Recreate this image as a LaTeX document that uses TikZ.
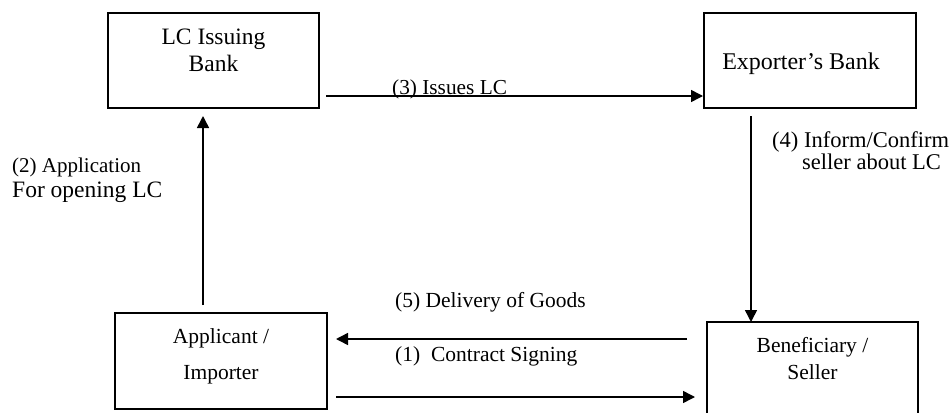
\documentclass[tikz,border=0pt]{standalone}
\usepackage{fontspec}
\setmainfont{Liberation Serif}
\usetikzlibrary{arrows.meta,calc}
\begin{document}
\begin{tikzpicture}[x=1pt,y=-1pt,
  box/.style={draw,line width=1.6pt,outer sep=0pt,inner sep=0pt},
  arr/.style={line width=1.5pt,-{Triangle[length=12pt,width=12pt]}},
  lbl/.style={inner sep=0pt,font=\fontsize{#1}{#1}\selectfont},
  lbl/.default=21.5]
\useasboundingbox (0,0) rectangle (949,412);
% boxes
\node[box,minimum width=211pt,minimum height=95pt] (issuing) at (213.5,60.5) {};
\node[box,minimum width=212pt,minimum height=95pt] (exporter) at (810,60.5) {};
\node[box,minimum width=212pt,minimum height=96pt] (applicant) at (221,361) {};
\node[box,minimum width=211pt,minimum height=96pt] (benef) at (812.5,370) {};
% box texts
\node[lbl=23.5,anchor=base] (t1) at (213.5,45) {LC Issuing};
\node[lbl=23.5,anchor=base] (t2) at (213.5,71) {Bank};
\node[lbl=24,anchor=base] (t3) at (801,70) {Exporter’s Bank};
\node[lbl,anchor=base] (t4) at (221,343) {Applicant /};
\node[lbl,anchor=base] (t5) at (221,379) {Importer};
\node[lbl,anchor=base] (t6) at (812.5,352) {Beneficiary /};
\node[lbl,anchor=base] (t7) at (812.5,379) {Seller};
% connectors
\draw[arr] ($(issuing.south east)+(7,-12)$) -- ($(exporter.south west)+(-1,-12)$);
\draw[arr] ($(applicant.north west)+(88,-8)$) -- ($(issuing.south west)+(95,8)$);
\draw[arr] ($(exporter.south west)+(47,8)$) -- ($(benef.north west)+(44,0)$);
\draw[arr] ($(benef.north west)+(-20,17)$) -- ($(applicant.north east)+(9,26)$);
\draw[arr] ($(applicant.north east)+(9,84)$) -- ($(benef.north west)+(-12,75)$);
% connector labels
\node[lbl=21.3,anchor=base west] (l3) at (392,94) {(3) Issues LC};
\node[lbl=21,anchor=base west] (l2a) at (12,172) {(2) Application};
\node[lbl=23.5,anchor=base west] (l2b) at (12,197) {For opening LC};
\node[lbl=22.5,anchor=base west] (l4a) at (772,147) {(4) Inform/Confirm};
\node[lbl=22.5,anchor=base west] (l4b) at (802,169) {seller about LC};
\node[lbl,anchor=base west] (l5) at (395,307) {(5) Delivery of Goods};
\node[lbl,anchor=base west] (l1) at (395,361) {(1)\ \ Contract Signing};
\end{tikzpicture}
\end{document}
